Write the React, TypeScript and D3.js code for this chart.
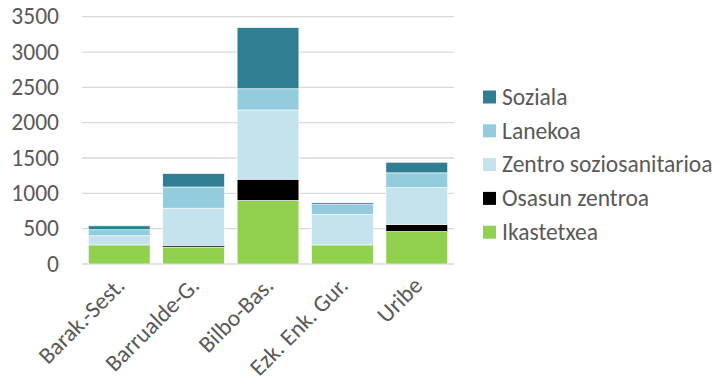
import React from "react";
import * as d3 from "d3";

const categories = ["Barak.-Sest.", "Barrualde-G.", "Bilbo-Bas.", "Ezk. Enk. Gur.", "Uribe"];
const seriesNames = ["Ikastetxea", "Osasun zentroa", "Zentro soziosanitarioa", "Lanekoa", "Soziala"];
const ikastetxea = [270, 240, 900, 270, 460];
const osasunZentroa = [0, 25, 300, 0, 100];
const zentroSoziosanitarioa = [130, 525, 980, 430, 520];
const lanekoa = [85, 300, 300, 140, 210];
const soziala = [55, 190, 865, 25, 150];
const yTicks = [0, 500, 1000, 1500, 2000, 2500, 3000, 3500];
const colors = ["#92D050", "#000000", "#C5E3EC", "#93CDDD", "#2F7E93"];

export default function App() {
  const W = 720, H = 385;
  const left = 82, right = 454, top = 16.7, bottom = 264;
  const x = d3.scaleBand<string>().domain(categories).range([left, right]).paddingInner(0.17).paddingOuter(0.085);
  const y = d3.scaleLinear().domain([0, 3500]).range([bottom, top]);
  const rows = categories.map((c, i) => ({
    cat: c,
    [seriesNames[0]]: ikastetxea[i],
    [seriesNames[1]]: osasunZentroa[i],
    [seriesNames[2]]: zentroSoziosanitarioa[i],
    [seriesNames[3]]: lanekoa[i],
    [seriesNames[4]]: soziala[i],
  }));
  const stacked = d3.stack<any>().keys(seriesNames)(rows);
  const font = "Carlito, Calibri, Lato, sans-serif";
  const fs = 23.5;
  const legendOrder = [4, 3, 2, 1, 0];
  return (
    <svg width={W} height={H} style={{ position: "absolute", left: 0, top: 0, background: "#fff" }} fontFamily={font}>
      {yTicks.map((t) => (
        <g key={t}>
          <line x1={left} x2={right} y1={y(t)} y2={y(t)} stroke="#D9D9D9" strokeWidth={1.3} />
          <text x={59} y={y(t)} dy="0.33em" textAnchor="end" fontSize={fs} fill="#595959">{t}</text>
        </g>
      ))}
      {stacked.map((s, si) => (
        <g key={s.key} fill={colors[si]}>
          {s.map((d, i) => {
            const h = y(d[0]) - y(d[1]);
            if (h <= 0) return null;
            return <rect key={i} x={x(categories[i])} width={x.bandwidth()} y={y(d[1])} height={h} stroke="#fff" strokeWidth={0.6} />;
          })}
        </g>
      ))}
      {categories.map((c) => {
        const cx = (x(c) as number) + x.bandwidth() / 2 + 7;
        return (
          <text key={c} transform={`translate(${cx},${287}) rotate(-45)`} textAnchor="end" fontSize={fs} fill="#595959">{c}</text>
        );
      })}
      {legendOrder.map((si, k) => {
        const cy = 97 + k * 33.8;
        return (
          <g key={si}>
            <rect x={483} y={cy - 6.5} width={13} height={13} fill={colors[si]} />
            <text x={502} y={cy} dy="0.33em" fontSize={fs} fill="#595959">{seriesNames[si]}</text>
          </g>
        );
      })}
    </svg>
  );
}
